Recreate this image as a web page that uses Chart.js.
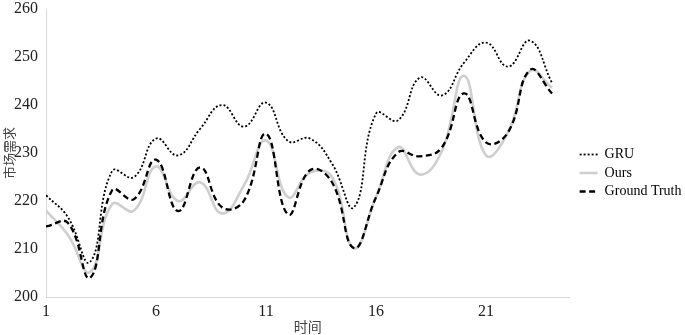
<!DOCTYPE html>
<html>
<head>
<meta charset="utf-8">
<script src="https://cdn.jsdelivr.net/npm/chart.js@4.4.1/dist/chart.umd.min.js"></script>
<style>
  html, body { margin: 0; padding: 0; background: #fff; }
  #wrap { width: 685px; height: 335px; }
</style>
</head>
<body>
<div id="wrap"><canvas id="demandChart"></canvas></div>
<script>
// time steps 1..24
const steps = [1,2,3,4,5,6,7,8,9,10,11,12,13,14,15,16,17,18,19,20,21,22,23,24];
const gru = [221.2,216.6,207.3,226.2,225,233,229.5,235,240,235.5,240.5,232.5,233,227.8,218.7,238.2,236.8,245.7,242,248.8,253,248,253.4,244.6];
const ours = [218,212.9,205.2,219.3,218,227.2,220,223.9,217.4,223.3,232.6,220.8,225.9,225,210.2,220.8,231.2,225.5,230.5,246.1,229.5,234.3,247.1,243.6];
const truth = [214.7,215.4,204,222.2,220.4,228.6,217.9,227,218.7,220.1,234,217.2,226.4,223.9,210.2,220.8,230.1,229.3,231.2,242.4,232.2,234.3,247.3,242.4];
const xTicks = [1,6,11,16,21];

const serif = "'Liberation Serif', 'DejaVu Serif', serif";
const cjk = "'Noto Sans CJK SC', sans-serif";

function pts(vals) {
    return vals.map((v, i) => ({ x: steps[i], y: v }));
}

// nudge the legend a bit right and down after layout
const legendNudge = {
    id: 'legendNudge',
    afterLayout(chart) {
        const lg = chart.legend;
        lg.left += 5.5; lg.right += 5.5;
        lg.top += 1; lg.bottom += 1;
    }
};

const ctx = document.getElementById('demandChart').getContext('2d');
new Chart(ctx, {
    type: 'line',
    data: {
        datasets: [
            { label: 'GRU', data: pts(gru), borderColor: '#000', borderWidth: 1.8, borderDash: [2, 2], order: 0 },
            { label: 'Ours', data: pts(ours), borderColor: '#cfcfcf', borderWidth: 2.6, order: 2 },
            { label: 'Ground Truth', data: pts(truth), borderColor: '#000', borderWidth: 2.3, borderDash: [6, 3.5], order: 1 }
        ]
    },
    plugins: [legendNudge],
    options: {
        responsive: true,
        maintainAspectRatio: false,
        animation: false,
        elements: {
            point: { radius: 0 },
            line: { tension: 0.45, fill: false }
        },
        layout: { padding: { left: 0, right: -1, top: 9, bottom: 0 } },
        plugins: {
            tooltip: { enabled: false },
            legend: {
                position: 'right',
                labels: {
                    usePointStyle: true,
                    pointStyle: 'line',
                    pointStyleWidth: 18,
                    boxWidth: 18,
                    padding: 4.5,
                    color: '#000',
                    font: { family: serif, size: 14 },
                    sort: (a, b) => a.datasetIndex - b.datasetIndex,
                    generateLabels: (chart) => {
                        const items = Chart.defaults.plugins.legend.labels.generateLabels(chart);
                        items.forEach(it => {
                            const ds = chart.data.datasets[it.datasetIndex];
                            it.lineDash = ds.borderDash || [];
                            it.lineWidth = ds.borderWidth;
                            it.strokeStyle = ds.borderColor;
                        });
                        return items;
                    }
                }
            }
        },
        scales: {
            x: {
                type: 'linear',
                min: 1,
                max: 24.8,
                afterBuildTicks: (scale) => { scale.ticks = xTicks.map(v => ({ value: v })); },
                afterFit: (scale) => { scale.height = 38; scale.paddingLeft = 0; scale.paddingRight = 0; },
                grid: { display: false, drawTicks: false },
                border: { display: true, color: '#d9d9d9', width: 1 },
                ticks: { color: '#222', font: { family: serif, size: 16 }, padding: 5, maxRotation: 0 },
                title: { display: true, text: '时间', color: '#444', font: { family: cjk, size: 14 }, padding: { top: 0, bottom: 0 } }
            },
            y: {
                min: 200,
                max: 260,
                afterFit: (scale) => { scale.width = 46; scale.paddingTop = 0; scale.paddingBottom = 0; },
                ticks: { stepSize: 10, color: '#222', font: { family: serif, size: 16 }, padding: 8 },
                grid: { display: false, drawTicks: false },
                border: { display: true, color: '#d9d9d9', width: 1 },
                title: { display: true, text: '市场需求', color: '#444', font: { family: cjk, size: 13 }, padding: { top: 1, bottom: 0 } }
            }
        }
    }
});
</script>
</body>
</html>
